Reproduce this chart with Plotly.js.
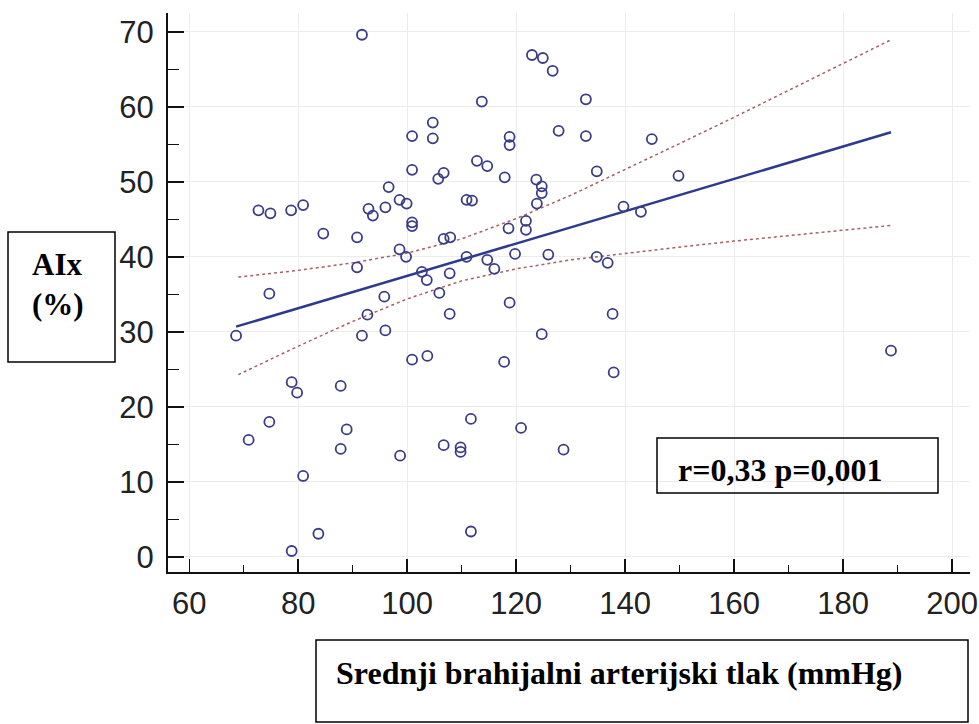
<!DOCTYPE html>
<html>
<head>
<meta charset="utf-8">
<script src="https://cdn.plot.ly/plotly-3.0.1.min.js"></script>
<style>html,body{margin:0;padding:0;background:#fff;}#chart{width:979px;height:724px;}</style>
</head>
<body>
<div id="chart"></div>
<script>
// Scatter points: mean brachial arterial pressure (mmHg) vs AIx (%)
const mapValues = [91.7,122.9,124.9,126.7,113.7,132.8,104.7,100.9,104.7,118.8,118.8,127.8,132.8,144.9,100.9,112.8,114.7,117.9,106.7,105.7,123.7,124.7,134.8,149.8,124.7,123.8,98.6,99.9,110.9,111.9,100.9,100.9,118.6,121.8,121.8,106.7,107.9,139.7,142.9,98.6,99.8,110.9,114.7,119.8,125.9,134.8,136.8,102.7,103.6,107.8,116.0,105.9,118.8,107.8,137.7,124.7,100.9,103.7,117.8,137.9,96.6,72.7,74.9,78.7,80.9,92.9,93.7,96.0,84.6,90.8,90.8,74.7,95.8,92.7,68.6,91.7,96.0,78.8,79.8,87.8,74.7,70.9,88.9,87.8,98.7,106.7,80.9,83.7,78.8,111.7,120.9,109.8,109.8,128.7,111.7,188.8];
const aixValues = [69.6,66.9,66.5,64.8,60.7,61.0,57.9,56.1,55.8,56.0,54.9,56.8,56.1,55.7,51.6,52.8,52.1,50.6,51.2,50.4,50.3,49.4,51.4,50.8,48.5,47.1,47.6,47.1,47.6,47.5,44.6,44.1,43.8,44.8,43.6,42.4,42.6,46.7,46.0,41.0,40.0,40.0,39.6,40.4,40.3,40.0,39.2,38.0,36.9,37.8,38.4,35.2,33.9,32.4,32.4,29.7,26.3,26.8,26.0,24.6,49.3,46.2,45.8,46.2,46.9,46.4,45.5,46.6,43.1,42.6,38.6,35.1,34.7,32.3,29.5,29.5,30.2,23.3,21.9,22.8,18.0,15.6,17.0,14.4,13.5,14.9,10.8,3.1,0.8,18.4,17.2,14.6,14.0,14.3,3.4,27.5];

// Regression line
const fitX = [68.6, 188.8];
const fitY = [30.7, 56.6];

// Confidence band
const bandX = [69, 80, 90, 100, 110, 120, 130, 140, 150, 160, 170, 180, 189];
const bandUpper = [37.3, 38.2, 39.2, 40.5, 42.4, 45.1, 48.2, 51.6, 55.1, 58.6, 62.2, 65.8, 69.0];
const bandLower = [24.3, 28.1, 31.4, 34.4, 36.8, 38.4, 39.6, 40.5, 41.3, 42.1, 42.8, 43.5, 44.2];

const xTicks = [60, 80, 100, 120, 140, 160, 180, 200];
const yTicks = [0, 10, 20, 30, 40, 50, 60, 70];

const yTitle = 'AIx<br>(%)';
const xTitle = 'Srednji brahijalni arterijski tlak (mmHg)';
const statText = 'r=0,33 p=0,001';

// pixel -> paper helpers (plot area 168..970 x 13..572)
const L = 168, R = 970, T = 13, B = 572;
const px = v => (v - L) / (R - L);
const py = v => (B - v) / (B - T);

const bandStyle = {color: '#a86060', width: 1.5, dash: 'dot'};

const traces = [
  {x: bandX, y: bandUpper, mode: 'lines', line: bandStyle, hoverinfo: 'skip'},
  {x: bandX, y: bandLower, mode: 'lines', line: bandStyle, hoverinfo: 'skip'},
  {x: fitX, y: fitY, mode: 'lines', line: {color: '#2e3a8c', width: 2.5}},
  {x: mapValues, y: aixValues, mode: 'markers',
   marker: {symbol: 'circle-open', size: 10, color: '#3a3d86', line: {width: 1.8, color: '#3a3d86'}}}
];

const serif = 'Liberation Serif, Times New Roman, serif';
const box = (x0, x1, y0, y1) => ({type: 'rect', xref: 'paper', yref: 'paper',
  x0: px(x0), x1: px(x1), y0: py(y1), y1: py(y0), line: {color: '#000', width: 1.5}, fillcolor: 'rgba(0,0,0,0)'});

const layout = {
  width: 979, height: 724, autosize: false,
  margin: {l: L, r: 979 - R, t: T, b: 724 - B, pad: 0},
  paper_bgcolor: '#fff', plot_bgcolor: '#fff',
  showlegend: false,
  font: {family: 'Liberation Sans, Arial, sans-serif', color: '#222'},
  xaxis: {
    range: [56.1, 203.3], tickvals: xTicks, ticktext: xTicks.map(String),
    showgrid: true, gridcolor: '#ececec', gridwidth: 1, zeroline: false,
    showline: true, linecolor: '#111', linewidth: 2,
    ticks: 'inside', ticklen: 13, tickwidth: 1.5, tickcolor: '#111',
    tickfont: {size: 31, color: '#222'}, ticklabelstandoff: 3,
    minor: {dtick: 10, tick0: 0, ticks: 'inside', ticklen: 7, tickwidth: 1.2, tickcolor: '#111', showgrid: false}
  },
  yaxis: {
    range: [-2, 72.5], tickvals: yTicks, ticktext: yTicks.map(String),
    showgrid: true, gridcolor: '#ececec', gridwidth: 1, zeroline: false,
    showline: true, linecolor: '#111', linewidth: 2,
    ticks: 'inside', ticklen: 16, tickwidth: 1.5, tickcolor: '#111',
    tickfont: {size: 31, color: '#222'}, ticklabelstandoff: 6,
    minor: {dtick: 5, tick0: 0, ticks: 'inside', ticklen: 11, tickwidth: 1.2, tickcolor: '#111', showgrid: false}
  },
  shapes: [box(8, 115, 232, 362), box(657, 938, 438, 493), box(316, 968, 640, 722)],
  annotations: [
    {xref: 'paper', yref: 'paper', x: px(30), y: py(284), xanchor: 'left', yanchor: 'middle',
     align: 'left', showarrow: false, text: yTitle,
     font: {family: serif, size: 31, color: '#000', weight: 'bold'}},
    {xref: 'paper', yref: 'paper', x: px(779.5), y: py(470), xanchor: 'center', yanchor: 'middle',
     showarrow: false, text: statText,
     font: {family: serif, size: 32, color: '#000', weight: 'bold'}},
    {xref: 'paper', yref: 'paper', x: px(619.5), y: py(673), xanchor: 'center', yanchor: 'middle',
     showarrow: false, text: xTitle,
     font: {family: serif, size: 32, color: '#000', weight: 'bold'}}
  ]
};

Plotly.newPlot('chart', traces, layout, {displayModeBar: false, staticPlot: true});
</script>
</body>
</html>
